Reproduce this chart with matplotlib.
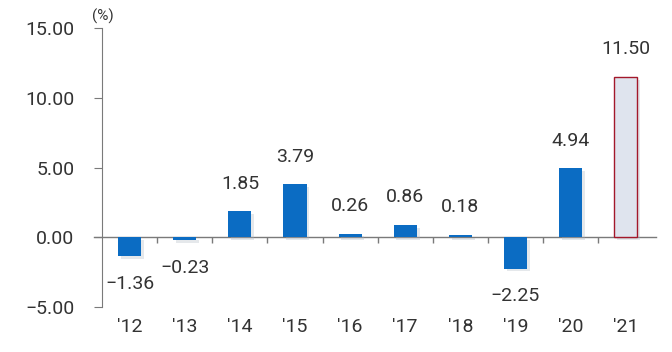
import matplotlib
matplotlib.use("Agg")
import matplotlib.pyplot as plt
import matplotlib.patheffects as pe
import numpy as np

plt.rcParams["font.family"] = ["Roboto", "DejaVu Sans"]
plt.rcParams["axes.unicode_minus"] = True

# yearly change (%)
years = ["'12", "'13", "'14", "'15", "'16", "'17", "'18", "'19", "'20", "'21"]
values = [-1.36, -0.23, 1.85, 3.79, 0.26, 0.86, 0.18, -2.25, 4.94, 11.50]
y_ticks = [-5, 0, 5, 10, 15]

blue = "#0b6cc3"
txt = "#333333"
axis_col = "#7a7a7a"

fig = plt.figure(figsize=(6.72, 3.52), dpi=100)
ax = fig.add_axes([0.152, 0.128, 0.82, 0.792])

x = np.arange(len(years))
shadow = [pe.SimplePatchShadow(offset=(2, -2), shadow_rgbFace="#a9b3c0", alpha=0.3), pe.Normal()]
bars = ax.bar(x, values, width=0.42, color=blue, zorder=3, path_effects=shadow)
# last year highlighted
bars[-1].set_facecolor("#dfe4ee")
bars[-1].set_edgecolor("#a3182b")
bars[-1].set_linewidth(1.0)

for xi, v in zip(x, values):
    off = 20 if v >= 0 else -20
    ax.annotate(f"{v:.2f}".replace("-", "\u2212"), (xi, v), xytext=(0, off),
                textcoords="offset points", ha="center", va="center",
                fontsize=14, color=txt)

ax.set_xlim(-0.5, len(years) - 0.5)
ax.set_ylim(-5, 15)

# zero line and category separators
ax.plot([-0.65, len(years) - 0.45], [0, 0], color=axis_col, lw=1.0,
        clip_on=False, zorder=2)
ax.vlines(x[:-1] + 0.5, -0.4, 0, color=axis_col, lw=1.0, zorder=2)

for s in ["top", "right", "bottom"]:
    ax.spines[s].set_visible(False)
ax.spines["left"].set_color(axis_col)

ax.set_yticks(y_ticks)
ax.set_yticklabels([f"{t:.2f}".replace("-", "\u2212") for t in y_ticks])
ax.tick_params(axis="y", length=6, color=axis_col, labelsize=14,
               labelcolor=txt, pad=14)
ax.set_xticks(x)
ax.set_xticklabels(years)
ax.tick_params(axis="x", length=0, labelsize=14, labelcolor=txt, pad=8)

ax.text(-0.68, 15.3, "(%)", fontsize=11, color=txt, ha="left", va="bottom")

fig.savefig("out.png", dpi=100)
